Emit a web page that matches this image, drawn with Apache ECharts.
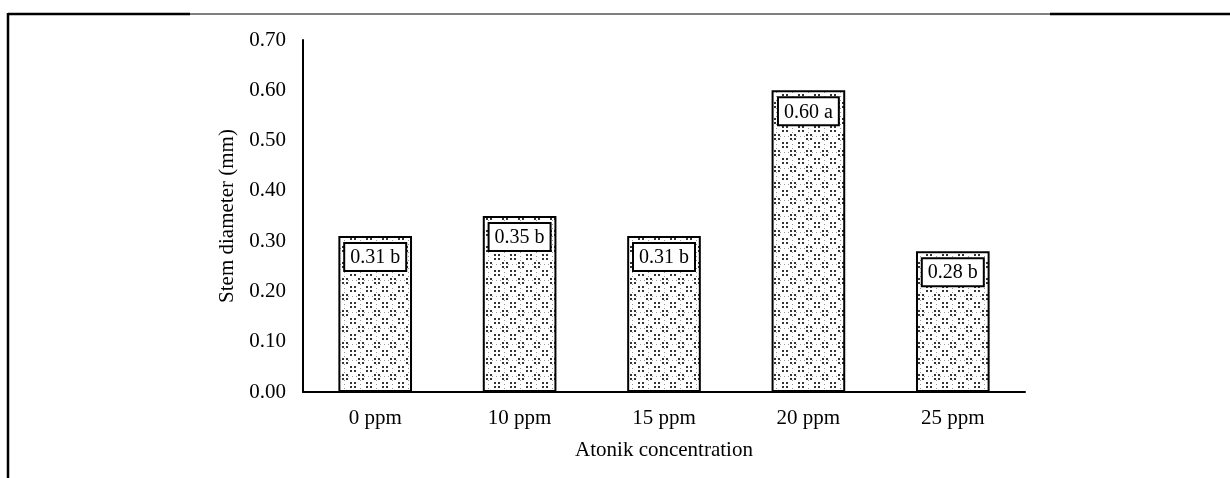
<!DOCTYPE html>
<html><head><meta charset="utf-8">
<script src="https://cdn.jsdelivr.net/npm/echarts@6/dist/echarts.min.js"></script>
<style>html,body{margin:0;padding:0;background:#fff}#c{width:1230px;height:478px}</style>
</head><body><div id="c"></div>
<script>
const categories = ['0 ppm', '10 ppm', '15 ppm', '20 ppm', '25 ppm'];
const values = [0.31, 0.35, 0.31, 0.60, 0.28];
const letters = ['b', 'b', 'b', 'a', 'b'];
const yTicks = [0, 0.1, 0.2, 0.3, 0.4, 0.5, 0.6, 0.7];

function makePattern() {
  const c = document.createElement('canvas');
  c.width = 16; c.height = 16;
  const g = c.getContext('2d');
  g.fillStyle = '#fff'; g.fillRect(0, 0, 16, 16);
  g.fillStyle = '#333';
  [[2,2],[6,6],[10,10],[14,14],[14,2],[10,6],[6,10],[2,14]].forEach(p => g.fillRect(p[0], p[1], 2, 2));
  g.fillStyle = '#999';
  [[8,0],[0,8],[8,4],[4,8],[12,8],[8,12]].forEach(p => g.fillRect(p[0], p[1], 1, 1));
  return c;
}

const chart = echarts.init(document.getElementById('c'), null, {renderer: 'canvas'});
const font = 'Liberation Serif';
chart.setOption({
  animation: false,
  grid: {left: 303, right: 205, top: 40, bottom: 86},
  xAxis: {
    type: 'category', data: categories,
    name: 'Atonik concentration', nameLocation: 'middle', nameGap: 48,
    nameTextStyle: {fontFamily: font, fontSize: 21, color: '#000'},
    axisLine: {lineStyle: {color: '#000', width: 2}},
    axisTick: {show: false},
    axisLabel: {fontFamily: font, fontSize: 21, color: '#000', margin: 16}
  },
  yAxis: {
    type: 'value', min: 0, max: 0.7, interval: 0.1,
    name: 'Stem diameter (mm)', nameLocation: 'middle', nameGap: 59,
    nameTextStyle: {fontFamily: font, fontSize: 21, color: '#000'},
    axisLine: {show: true, lineStyle: {color: '#000', width: 2}},
    axisTick: {show: false},
    splitLine: {show: false},
    axisLabel: {fontFamily: font, fontSize: 21, color: '#000', margin: 17,
      formatter: v => yTicks.some(t => Math.abs(t - v) < 1e-9) ? v.toFixed(2) : ''}
  },
  series: [{
    type: 'bar', data: values, barWidth: '51%',
    itemStyle: {color: {image: makePattern(), repeat: 'repeat'}, borderColor: '#000', borderWidth: 2},
    label: {
      show: true, position: 'insideTop', distance: 8,
      formatter: p => p.value.toFixed(2) + ' ' + letters[p.dataIndex],
      fontFamily: font, fontSize: 20, color: '#000', lineHeight: 22,
      backgroundColor: '#fff', borderColor: '#000', borderWidth: 2, padding: [3, 5, 1, 5]
    }
  }],
  graphic: [
    {type: 'line', shape: {x1: 8, y1: 14, x2: 190, y2: 14}, style: {stroke: '#000', lineWidth: 2.5}},
    {type: 'line', shape: {x1: 190, y1: 14, x2: 1050, y2: 14}, style: {stroke: '#000', lineWidth: 1}},
    {type: 'line', shape: {x1: 1050, y1: 14, x2: 1230, y2: 14}, style: {stroke: '#000', lineWidth: 2.5}},
    {type: 'line', shape: {x1: 8, y1: 13, x2: 8, y2: 478}, style: {stroke: '#000', lineWidth: 2.5}}
  ]
});
</script></body></html>
